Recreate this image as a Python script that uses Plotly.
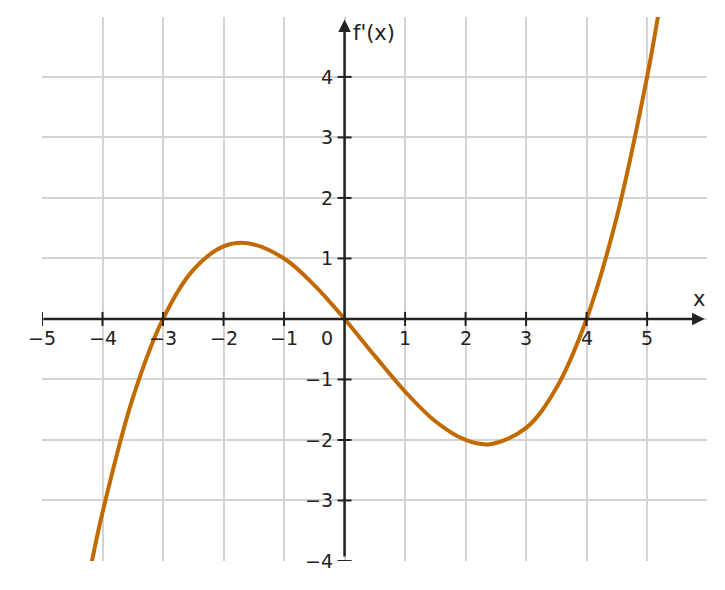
import plotly.graph_objects as go

# curve points
curve_x = [-4.2, -4.0, -3.5, -3.0, -2.5, -2.0, -1.6, -1.0, -0.5, 0.0, 0.5, 1.0, 1.5, 2.0, 2.4, 3.0, 3.5, 4.0, 4.5, 5.0, 5.2]
curve_y = [-4.13, -3.2, -1.31, 0.0, 0.81, 1.2, 1.25, 1.0, 0.56, 0.0, -0.61, -1.2, -1.69, -2.0, -2.07, -1.8, -1.14, 0.0, 1.69, 4.0, 5.12]

x_ticks = [-5, -4, -3, -2, -1, 1, 2, 3, 4, 5]
y_ticks = [-4, -3, -2, -1, 1, 2, 3, 4]

def lab(v):
    return str(v).replace("-", "\u2212")

fig = go.Figure()

fig.add_trace(go.Scatter(x=curve_x, y=curve_y, mode="lines", line=dict(color="#c06a00", width=4, shape="spline"), hoverinfo="skip"))

# tick marks on the axes
fig.add_trace(go.Scatter(x=x_ticks, y=[0]*len(x_ticks), mode="markers",
                         marker=dict(symbol="line-ns", size=10, line=dict(color="#222", width=2)), hoverinfo="skip"))
fig.add_trace(go.Scatter(x=[0]*len(y_ticks), y=y_ticks, mode="markers",
                         marker=dict(symbol="line-ew", size=10, line=dict(color="#222", width=2)), hoverinfo="skip"))

ann = []
for v in x_ticks:
    ann.append(dict(x=v, y=0, text=lab(v), showarrow=False, yshift=-19, font=dict(size=19, color="#222")))
for v in y_ticks:
    ann.append(dict(x=0, y=v, text=lab(v), showarrow=False, xanchor="right", xshift=-10, font=dict(size=19, color="#222")))
ann.append(dict(x=0, y=0, text="0", showarrow=False, xanchor="right", xshift=-10, yshift=-19, font=dict(size=19, color="#222")))
# axis arrows
ann.append(dict(x=5.95, y=0, ax=-5, ay=0, axref="x", ayref="y", xref="x", yref="y", text="",
                showarrow=True, arrowhead=2, arrowsize=1, arrowwidth=2.5, arrowcolor="#222"))
ann.append(dict(x=0, y=4.95, ax=0, ay=-3.95, axref="x", ayref="y", xref="x", yref="y", text="",
                showarrow=True, arrowhead=2, arrowsize=1, arrowwidth=2.5, arrowcolor="#222"))
ann.append(dict(x=5.85, y=0, text="x", showarrow=False, yshift=20, font=dict(size=21, color="#222")))
ann.append(dict(x=0, y=4.73, text="f'(x)", showarrow=False, xanchor="left", xshift=6, font=dict(size=21, color="#222")))

fig.update_layout(
    width=717, height=582,
    plot_bgcolor="white", paper_bgcolor="white",
    showlegend=False,
    margin=dict(l=34, r=18, t=9, b=29),
    font=dict(family="DejaVu Sans"),
    xaxis=dict(range=[-5, 5.99], dtick=1, tick0=0, showticklabels=False, showgrid=True,
               gridcolor="#d3d3d3", gridwidth=1.5, zeroline=False, fixedrange=True),
    yaxis=dict(range=[-4.0, 4.99], dtick=1, tick0=0, showticklabels=False, showgrid=True,
               gridcolor="#d3d3d3", gridwidth=1.5, zeroline=False, fixedrange=True),
    annotations=ann,
)

fig.write_html("out.html")
